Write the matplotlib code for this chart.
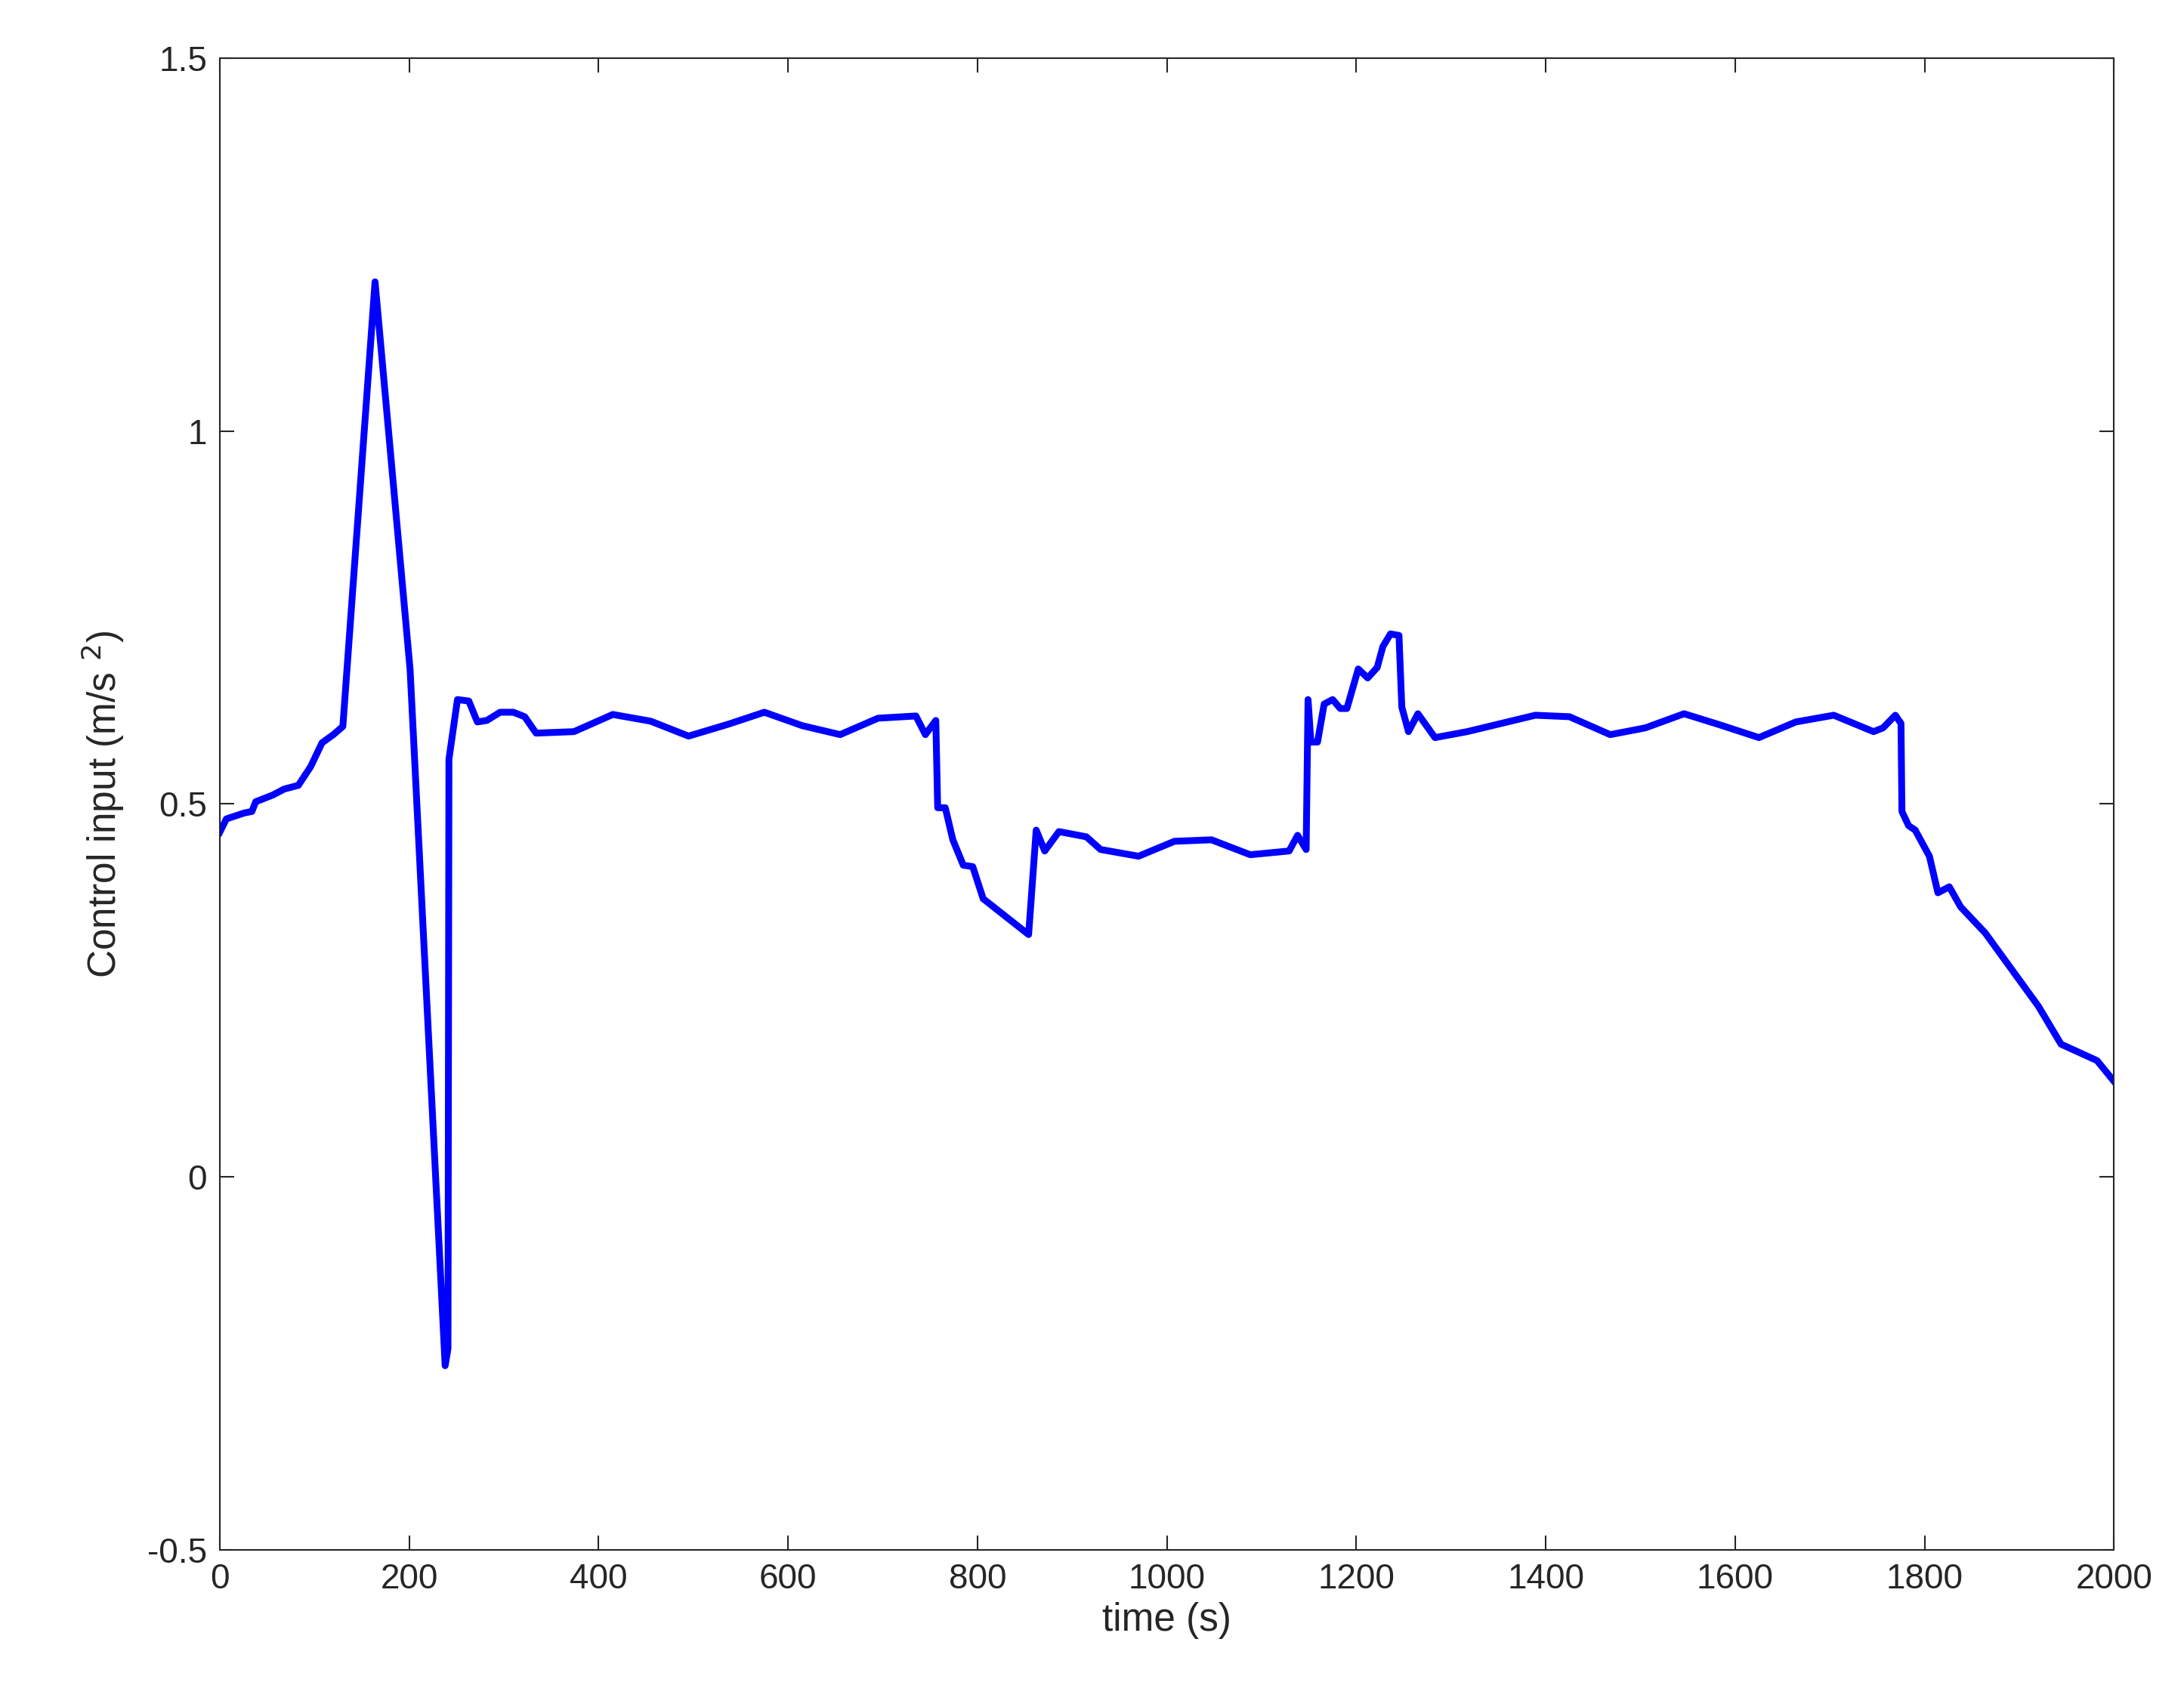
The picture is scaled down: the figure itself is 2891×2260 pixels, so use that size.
import matplotlib
matplotlib.use("Agg")
import matplotlib.pyplot as plt

t = [0,7,26,34,38,56,68,83,96,108,120,130,164,201,238,241,242,251,263,272,282,296,310,322,334,374,415,455,495,537,575,615,655,695,735,745,756,758,766,774,785,795,806,854,862,871,886,915,930,970,1008,1047,1088,1129,1138,1147,1149,1152,1159,1166,1175,1183,1190,1202,1212,1222,1228,1236,1245,1248,1255,1265,1283,1317,1389,1425,1468,1505,1546,1584,1625,1664,1704,1746,1756,1769,1775,1776,1783,1790,1805,1814,1826,1838,1864,1920,1944,1982,2000]
u = [0.462,0.48,0.488,0.49,0.503,0.512,0.52,0.525,0.55,0.582,0.593,0.604,1.2,0.68,-0.253,-0.23,0.56,0.64,0.638,0.61,0.612,0.623,0.623,0.617,0.595,0.597,0.62,0.611,0.591,0.607,0.623,0.605,0.593,0.615,0.618,0.593,0.612,0.495,0.495,0.452,0.418,0.416,0.373,0.325,0.465,0.437,0.463,0.456,0.439,0.430,0.450,0.452,0.432,0.437,0.458,0.439,0.64,0.583,0.583,0.634,0.64,0.628,0.628,0.681,0.669,0.683,0.711,0.728,0.726,0.63,0.597,0.621,0.589,0.597,0.619,0.617,0.593,0.602,0.621,0.606,0.589,0.610,0.619,0.597,0.602,0.619,0.608,0.49,0.471,0.465,0.430,0.381,0.389,0.362,0.327,0.229,0.178,0.156,0.128]

plt.rcParams['font.family'] = ['Liberation Sans', 'DejaVu Sans']
fig = plt.figure(figsize=(28.91, 22.60), dpi=100)
ax = fig.add_axes([0.1006, 0.092, 0.8674, 0.874])
ax.plot(t, u, color='#0000ff', lw=6.5)
ax.set_xlim(0, 2000)
ax.set_ylim(-0.5, 1.5)
ax.set_xticks(range(0, 2001, 200))
ax.set_yticks([-0.5, 0, 0.5, 1, 1.5])
ax.set_yticklabels(['-0.5', '0', '0.5', '1', '1.5'])
ax.tick_params(direction='in', top=True, right=True, labelsize=33, length=14, width=1.5, colors='#262626', pad=12)
for s in ax.spines.values():
    s.set_linewidth(1.5)
    s.set_color('#262626')
ax.set_xlabel('time (s)', fontsize=37, color='#262626', labelpad=6)
ax.set_ylabel('Control input (m/s $^{2}$)', fontsize=37, color='#262626', labelpad=20)
fig.savefig('out.png', dpi=100, facecolor='white')
